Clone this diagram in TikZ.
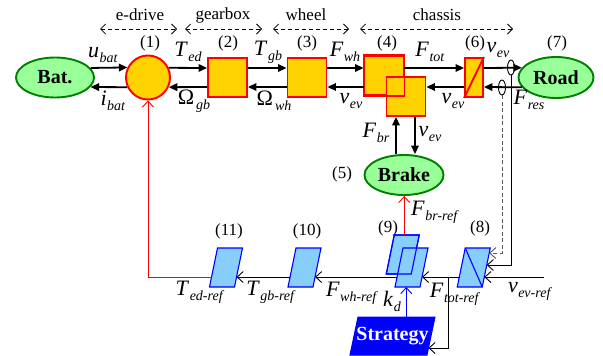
\documentclass[tikz,border=0pt]{standalone}
\usepackage{fontspec}
\setmainfont{Liberation Serif}
\usetikzlibrary{shapes.geometric,arrows.meta,calc}
\definecolor{yfill}{RGB}{255,210,0}
\definecolor{gfill}{RGB}{153,255,153}
\definecolor{gline}{RGB}{0,128,0}
\definecolor{pblue}{RGB}{135,206,250}
\newcommand{\vs}[2]{\textit{#1}\kern0.5pt\raisebox{-5pt}{\fontsize{14}{14}\selectfont\textit{#2}}}
\newcommand{\gs}[2]{#1\kern2pt\raisebox{-5pt}{\fontsize{14}{14}\selectfont\textit{#2}}}
% name, cx, cy, top width, height, style
\newcommand{\mkpara}[6]{%
  \coordinate (#1) at (#2,#3);
  \coordinate (#1-tl) at ($(#1)+({-#4/2+4},{-#5/2})$);
  \coordinate (#1-tr) at ($(#1)+({#4/2+4},{-#5/2})$);
  \coordinate (#1-br) at ($(#1)+({#4/2-4},{#5/2})$);
  \coordinate (#1-bl) at ($(#1)+({-#4/2-4},{#5/2})$);
  \filldraw[#6] (#1-tl) -- (#1-tr) -- (#1-br) -- (#1-bl) -- cycle;}
\begin{document}
\begin{tikzpicture}[x=1pt,y=-1pt,
  ybox/.style={rectangle,draw=red,fill=yfill,line width=1.9pt,minimum width=39pt,minimum height=39pt,inner sep=0},
  gell/.style={ellipse,draw=gline,fill=gfill,line width=1.9pt,font=\fontsize{20}{22}\selectfont\bfseries,inner sep=0,minimum width=78pt,minimum height=40pt},
  para/.style={draw=blue,fill=pblue,line width=1.1pt},
  fw/.style={line width=1.8pt,-{Triangle[length=8.5pt,width=7.5pt]}},
  tw/.style={line width=0.9pt,-{Straight Barb[length=6pt,width=11pt]}},
  dar/.style={line width=0.8pt,dash pattern=on 4pt off 3pt,{Straight Barb[length=5pt,width=10pt]}-{Straight Barb[length=5pt,width=10pt]}},
  grp/.style={font=\fontsize{17}{18}\selectfont,inner sep=0},
  num/.style={font=\fontsize{17}{18}\selectfont,inner sep=0},
  lab/.style={font=\fontsize{22}{24}\selectfont,inner sep=0},
  tap/.style={ellipse,draw=black,line width=0.9pt,minimum width=7pt,minimum height=15pt,inner sep=0}]
\useasboundingbox[fill=white] (0,0) rectangle (603,356);
% group headers
\node[grp] (ged) at (140,15) {e-drive};
\node[grp] (ggb) at (223,15) {gearbox};
\node[grp] (gwh) at (306,15) {wheel};
\node[grp] (gch) at (437,15) {chassis};
\coordinate (d1a) at (100,29); \coordinate (d1b) at (177,29);
\coordinate (d2a) at (185,29); \coordinate (d2b) at (262,29);
\coordinate (d3a) at (273,29); \coordinate (d3b) at (349,29);
\coordinate (d4a) at (360,29); \coordinate (d4b) at (513,29);
\draw[dar] (d1a) -- (d1b);
\draw[dar] (d2a) -- (d2b);
\draw[dar] (d3a) -- (d3b);
\draw[dar] (d4a) -- (d4b);
% numbers
\node[num] (n1) at (150,43) {(1)};
\node[num] (n2) at (228,43) {(2)};
\node[num] (n3) at (307,43) {(3)};
\node[num] (n4) at (387,43) {(4)};
\node[num] (n6) at (475,43) {(6)};
\node[num] (n7) at (557,43) {(7)};
\node[num] (n5) at (342,174) {(5)};
\node[num] (n11) at (229,231) {(11)};
\node[num] (n10) at (307,231) {(10)};
\node[num] (n9) at (388,228) {(9)};
\node[num] (n8) at (480,228) {(8)};
% main blocks
\node[gell] (bat) at (55,77.5) {Bat.};
\node[ybox,circle,minimum size=44pt] (c1) at (148,77.5) {};
\node[ybox] (b2) at (227.5,77.5) {};
\node[ybox] (b3) at (307,77.5) {};
\node[ybox] (b4a) at (384,75.5) {};
\node[ybox] (b4b) at (406,96.5) {};
\draw[red,line width=1.9pt] (b4a.south west) rectangle (b4a.north east);
\node[ybox,minimum width=18pt] (b6) at (474,77.5) {};
\draw[red,line width=1.9pt] (b6.south west) -- (b6.north east);
\node[gell,minimum width=75pt,minimum height=41pt] (road) at (556,77.5) {Road};
\node[gell,minimum width=79pt] (brake) at (404,175) {Brake};
% lower blocks
\mkpara{p8}{473.75}{267.5}{25}{39}{para}
\draw[blue,line width=1.1pt] (p8-tl) -- (p8-br);
\mkpara{p9a}{402.75}{254.5}{25}{39}{para}
\mkpara{p9b}{411.5}{267.5}{25}{39}{para}
\draw[blue,line width=1.1pt] (p9a-tl) -- (p9a-tr) -- (p9a-br) -- (p9a-bl) -- cycle;
\mkpara{p10}{304.5}{267.5}{25}{39}{para}
\mkpara{p11}{226}{267.5}{25}{39}{para}
\mkpara{st}{392.5}{336}{77}{38}{draw=blue,fill=blue,line width=1pt}
\node[text=white,font=\fontsize{20}{22}\selectfont\bfseries,inner sep=0] (strat) at (392.5,336) {Strategy};
% top arrows
\draw[fw] (bat.15) -- (c1.154.4);
\draw[fw] (c1.205.6) -- (bat.-15);
\draw[fw] (c1.25.6) -- ([yshift=9.5pt]b2.west);
\draw[fw] ([yshift=-9.5pt]b2.west) -- (c1.-25.6);
\draw[fw] ([yshift=9.5pt]b2.east) -- ([yshift=9.5pt]b3.west);
\draw[fw] ([yshift=-9.5pt]b3.west) -- ([yshift=-9.5pt]b2.east);
\draw[fw] ([yshift=9.5pt]b3.east) -- ([yshift=7.5pt]b4a.west);
\draw[fw] ([yshift=-11.5pt]b4a.west) -- ([yshift=-9.5pt]b3.east);
\draw[fw] ([yshift=7.5pt]b4a.east) -- ([yshift=9.5pt]b6.west);
\draw[fw] ([yshift=-9.5pt]b6.west) -- ([yshift=9.5pt]b4b.east);
\draw[fw] ([yshift=9.5pt]b6.east) -- (road.164);
\draw[fw] (road.196) -- ([yshift=-9.5pt]b6.east);
\draw[fw] ([xshift=-8pt]brake.north) -- ([xshift=-8pt]brake.north |- b4b.south);
\draw[fw] ([xshift=11pt]brake.north |- b4b.south) -- ([xshift=11pt]brake.north);
% taps
\node[tap] (t1) at (511,67.5) {};
\node[tap] (t2) at (502,87.5) {};
% points on parallelogram edges
\coordinate (p8r) at ($(p8-tr)!0.744!(p8-br)$);
\coordinate (p8l) at ($(p8-tl)!0.744!(p8-bl)$);
\coordinate (p8ra) at ($(p8-tr)!0.13!(p8-br)$);
\coordinate (p8rb) at ($(p8-tr)!0.436!(p8-br)$);
\coordinate (p9r) at ($(p9b-tr)!0.744!(p9b-br)$);
\coordinate (p9l) at ($(p9b-tl)!0.744!(p9b-bl)$);
\coordinate (p10r) at ($(p10-tr)!0.744!(p10-br)$);
\coordinate (p10l) at ($(p10-tl)!0.744!(p10-bl)$);
\coordinate (p11r) at ($(p11-tr)!0.744!(p11-br)$);
\coordinate (p11l) at ($(p11-tl)!0.744!(p11-bl)$);
\coordinate (sr) at ($(st-tr)!0.816!(st-br)$);
\coordinate (p9bb) at ($(p9b-bl)!0.45!(p9b-br)$);
\coordinate (p9at) at ($(p9a-tl)!0.4!(p9a-tr)$);
\coordinate (vin) at ($(p8r)+(60,0)$);
\coordinate (br) at ($(p8l)+(-11,0)$);
% lower connectors
\draw[tw] (t1.south) |- (p8rb);
\draw[tw,dash pattern=on 4pt off 2.5pt,black!65] (t2.south) |- (p8ra);
\draw[tw] (vin) -- (p8r);
\draw[tw] (p8l) -- (p9r);
\draw[tw] (p9l) -- (p10r);
\draw[tw] (p10l) -- (p11r);
\draw[tw,red] (p11l) -| (c1.south);
\draw[tw] (br) |- (sr);
\draw[tw,blue] (p9bb |- st-tl) -- (p9bb);
\draw[tw,red] (p9at) -- (p9at |- brake.south);
% variable labels
\node[lab] (lu) at (103,55) {\vs{u}{bat}};
\node[lab] (li) at (113,101) {\vs{i}{bat}};
\node[lab] (lted) at (188,52) {\vs{T}{ed}};
\node[lab] (logb) at (194,101) {\gs{Ω}{gb}};
\node[lab] (ltgb) at (268,52) {\vs{T}{gb}};
\node[lab] (lowh) at (274,101) {\gs{Ω}{wh}};
\node[lab] (lfwh) at (345,52) {\vs{F}{wh}};
\node[lab] (lv1) at (351,101) {\vs{v}{ev}};
\node[lab] (lftot) at (430,52) {\vs{F}{tot}};
\node[lab] (lv2) at (453,101) {\vs{v}{ev}};
\node[lab] (lv3) at (498,50) {\vs{v}{ev}};
\node[lab] (lfres) at (529,100) {\vs{F}{res}};
\node[lab] (lfbr) at (376,133) {\vs{F}{br}};
\node[lab] (lv4) at (430,134) {\vs{v}{ev}};
\node[lab] (lfbrref) at (435,212) {\vs{F}{br-ref}};
\node[lab] (lted2) at (200,292) {\vs{T}{ed-ref}};
\node[lab] (ltgb2) at (271,292) {\vs{T}{gb-ref}};
\node[lab] (lfwh2) at (352,293) {\vs{F}{wh-ref}};
\node[lab] (lkd) at (392,301) {\vs{k}{d}};
\node[lab] (lftot2) at (455,294) {\vs{F}{tot-ref}};
\node[lab] (lvref) at (530,291) {\vs{v}{ev-ref}};
\end{tikzpicture}
\end{document}
